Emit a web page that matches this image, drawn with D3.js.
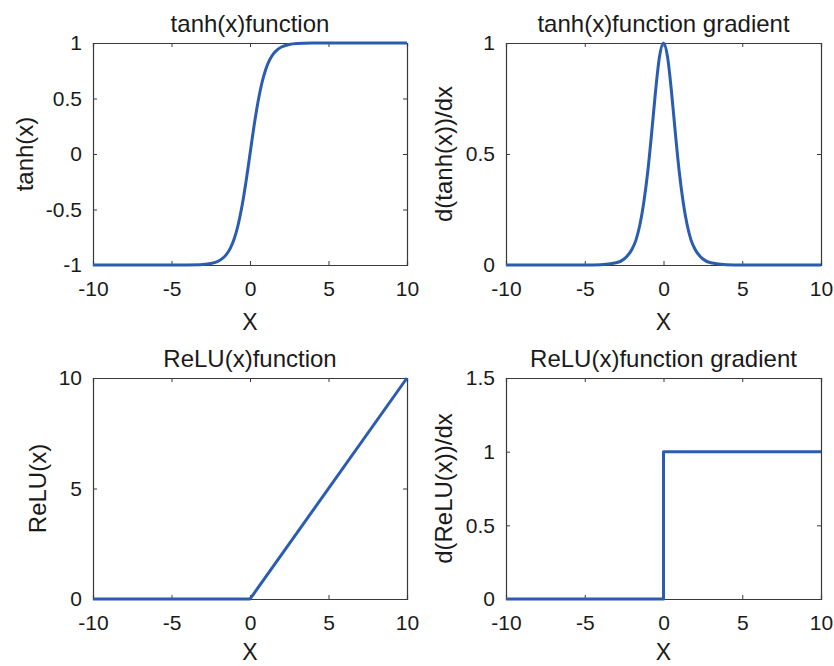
<!DOCTYPE html>
<html>
<head>
<meta charset="utf-8">
<script src="https://cdn.jsdelivr.net/npm/d3@7"></script>
<style>
  body { margin: 0; background: #fff; }
  svg { display: block; }
  text { font-family: 'Liberation Sans', Arial, sans-serif; fill: #1a1a1a; }
</style>
</head>
<body>
<div id="chart"></div>
<script>
const tanhX = [-10, -5, -4, -3, -2.5, -2, -1.75, -1.5, -1.25, -1, -0.75, -0.5, -0.25, 0,
  0.25, 0.5, 0.75, 1, 1.25, 1.5, 1.75, 2, 2.5, 3, 4, 5, 10]
const tanhY = [-1, -1, -0.999, -0.995, -0.987, -0.964, -0.941, -0.905, -0.848, -0.762, -0.635, -0.462, -0.245, 0,
  0.245, 0.462, 0.635, 0.762, 0.848, 0.905, 0.941, 0.964, 0.987, 0.995, 0.999, 1, 1]
const tanhGradY = [0, 0.0002, 0.0013, 0.01, 0.027, 0.071, 0.112, 0.181, 0.283, 0.42, 0.596, 0.786, 0.94, 1,
  0.94, 0.786, 0.596, 0.42, 0.283, 0.181, 0.112, 0.071, 0.027, 0.01, 0.0013, 0.0002, 0]
const reluX = [-10, 0, 10]
const reluY = [0, 0, 10]
const reluGradX = [-10, 0, 0, 10]
const reluGradY = [0, 0, 1, 1]

const xTicks = [-10, -5, 0, 5, 10]

const panels = [
  { title: 'tanh(x)function', ylabel: 'tanh(x)', xs: tanhX, ys: tanhY, yDomain: [-1, 1],
    yTicks: [-1, -0.5, 0, 0.5, 1], box: [93, 43, 407, 265], ylabelX: 25, smooth: true },
  { title: 'tanh(x)function gradient', ylabel: 'd(tanh(x))/dx', xs: tanhX, ys: tanhGradY, yDomain: [0, 1],
    yTicks: [0, 0.5, 1], box: [506, 43, 821, 265], ylabelX: 444, smooth: true },
  { title: 'ReLU(x)function', ylabel: 'ReLU(x)', xs: reluX, ys: reluY, yDomain: [0, 10],
    yTicks: [0, 5, 10], box: [93, 378, 407, 599], ylabelX: 38, smooth: false },
  { title: 'ReLU(x)function gradient', ylabel: 'd(ReLU(x))/dx', xs: reluGradX, ys: reluGradY, yDomain: [0, 1.5],
    yTicks: [0, 0.5, 1, 1.5], box: [506, 378, 821, 599], ylabelX: 444, smooth: false }
]

const lineColor = '#2a5db0'
const axisColor = '#3a3a3a'

const svg = d3.select('#chart').append('svg')
  .attr('width', 834)
  .attr('height', 666)

panels.forEach((p) => {
  const [x0, y0, x1, y1] = p.box
  const x = d3.scaleLinear().domain([-10, 10]).range([x0, x1])
  const y = d3.scaleLinear().domain(p.yDomain).range([y1, y0])
  const fmt = (d) => String(d)

  const g = svg.append('g')

  // inward ticks on all four sides, matlab style
  g.append('g').attr('transform', `translate(0, ${y1})`)
    .call(d3.axisBottom(x).tickValues(xTicks).tickSize(-4).tickPadding(16).tickFormat(fmt))
  g.append('g').attr('transform', `translate(0, ${y0})`)
    .call(d3.axisTop(x).tickValues(xTicks).tickSize(-4).tickFormat(''))
  g.append('g').attr('transform', `translate(${x0}, 0)`)
    .call(d3.axisLeft(y).tickValues(p.yTicks).tickSize(-4).tickPadding(11).tickFormat(fmt))
  g.append('g').attr('transform', `translate(${x1}, 0)`)
    .call(d3.axisRight(y).tickValues(p.yTicks).tickSize(-4).tickFormat(''))

  g.selectAll('.domain').attr('stroke', axisColor).attr('stroke-width', 1.2)
  g.selectAll('.tick line').attr('stroke', axisColor)
  g.selectAll('.tick text')
    .style('font-size', '21px')
    .attr('fill', '#1a1a1a')

  const data = p.xs.map((d, i) => [d, p.ys[i]])
  const line = d3.line()
    .x((d) => x(d[0]))
    .y((d) => y(d[1]))
    .curve(p.smooth ? d3.curveMonotoneX : d3.curveLinear)

  g.append('path')
    .datum(data)
    .attr('fill', 'none')
    .attr('stroke', lineColor)
    .attr('stroke-width', 3)
    .attr('stroke-linejoin', 'round')
    .attr('d', line)

  g.append('text')
    .attr('x', (x0 + x1) / 2)
    .attr('y', y0 - 11)
    .attr('text-anchor', 'middle')
    .style('font-size', '24px')
    .text(p.title)

  // keep the bottom row's X inside the page
  g.append('text')
    .attr('x', (x0 + x1) / 2)
    .attr('y', Math.min(y1 + 65, 660))
    .attr('text-anchor', 'middle')
    .style('font-size', '23px')
    .text('X')

  g.append('text')
    .attr('transform', `translate(${p.ylabelX}, ${(y0 + y1) / 2}) rotate(-90)`)
    .attr('text-anchor', 'middle')
    .attr('dy', '0.35em')
    .style('font-size', '24px')
    .text(p.ylabel)
})
</script>
</body>
</html>
